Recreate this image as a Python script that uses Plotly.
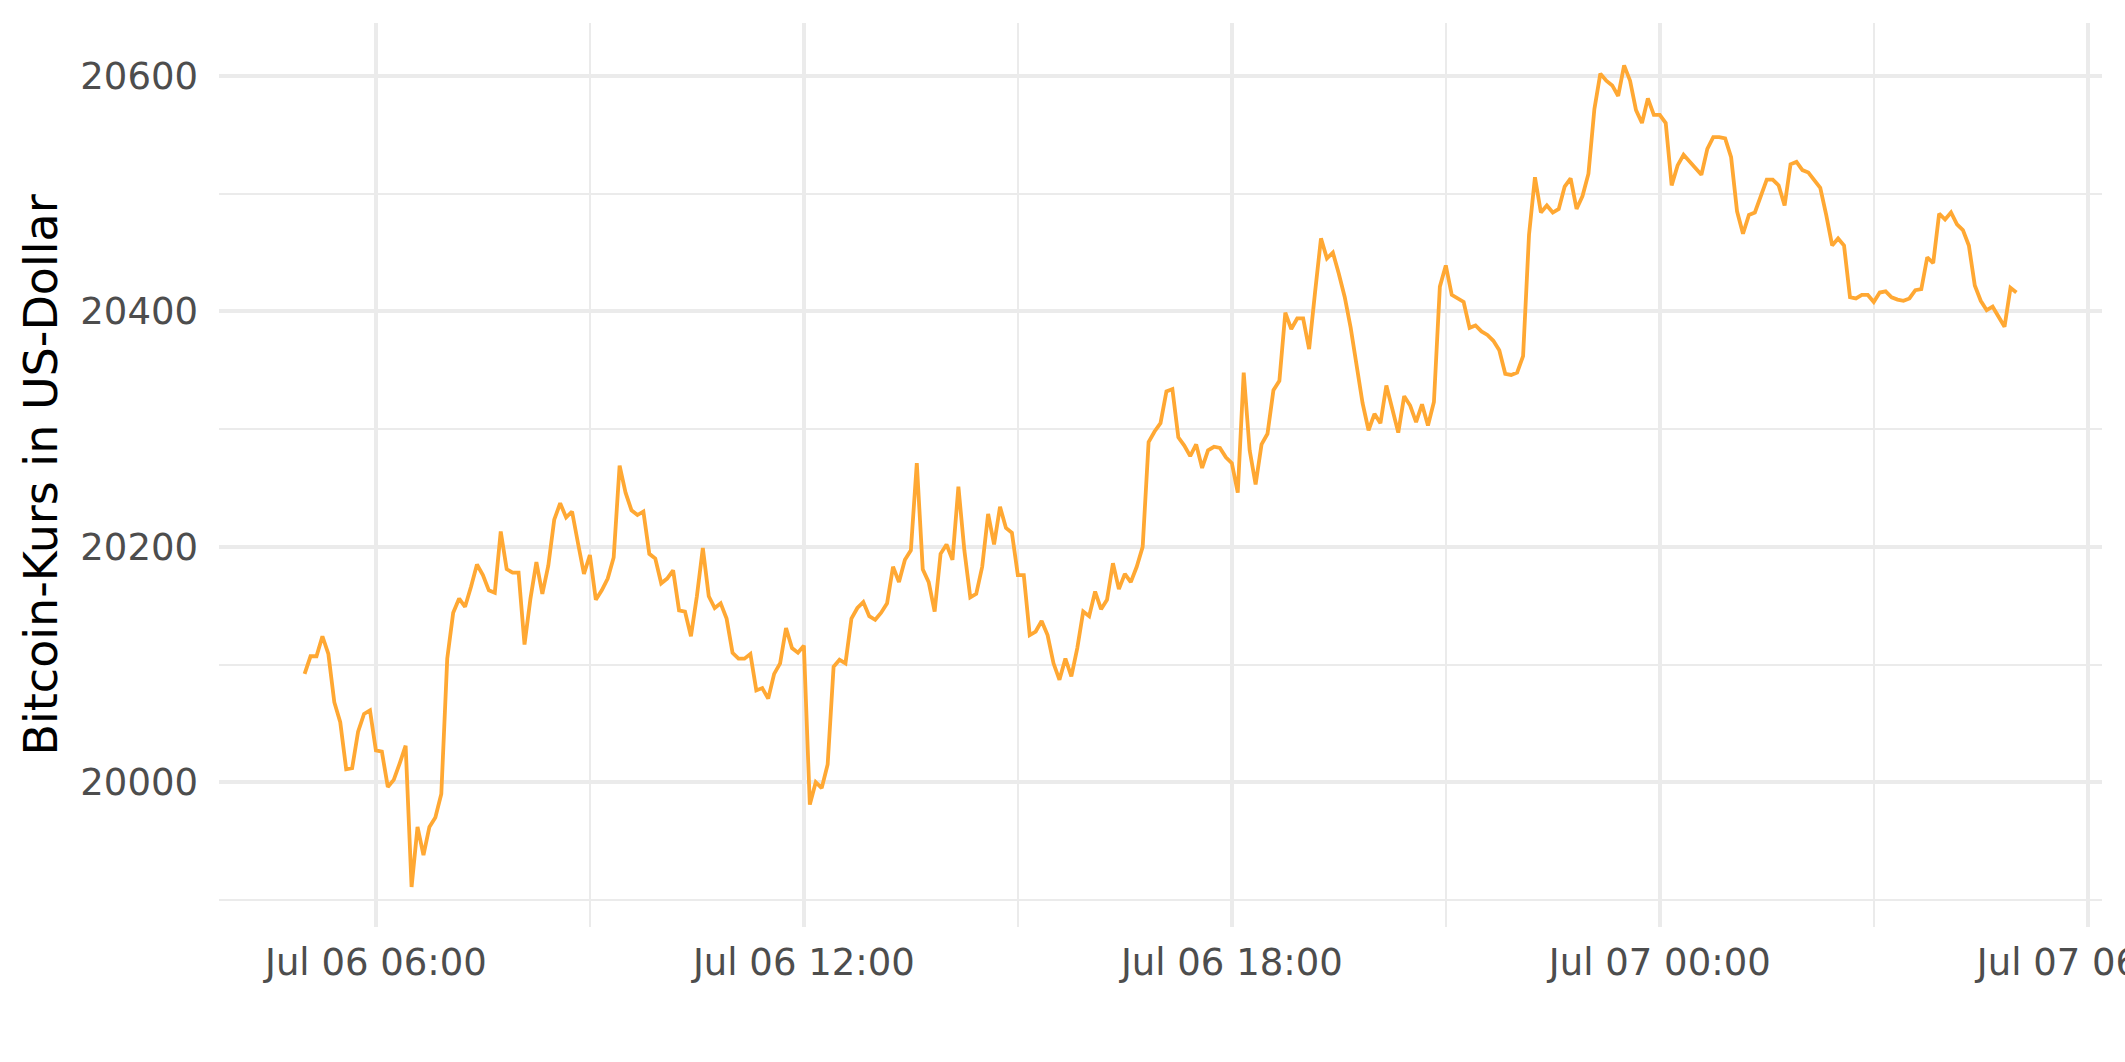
import pandas as pd
import plotly.graph_objects as go

# ---- data ----
start_time = "2022-07-06 05:00"
interval = "5min"
prices = [
    20092, 20107, 20107, 20124, 20109, 20068, 20051, 20011, 20012, 20043,
    20058, 20061, 20027, 20026, 19996, 20002, 20016, 20031, 19911, 19962,
    19938, 19962, 19970, 19990, 20105, 20144, 20156, 20149, 20166, 20185,
    20176, 20163, 20161, 20213, 20181, 20178, 20178, 20117, 20156, 20187,
    20160, 20184, 20223, 20237, 20225, 20230, 20203, 20177, 20193, 20155,
    20163, 20173, 20191, 20269, 20246, 20231, 20227, 20230, 20194, 20190,
    20169, 20173, 20180, 20146, 20145, 20124, 20158, 20199, 20158, 20148,
    20152, 20139, 20110, 20105, 20105, 20109, 20078, 20080, 20071, 20092,
    20101, 20131, 20114, 20110, 20116, 19981, 20000, 19995, 20015, 20098,
    20104, 20101, 20139, 20148, 20153, 20141, 20138, 20144, 20152, 20183,
    20170, 20189, 20197, 20271, 20181, 20170, 20145, 20194, 20202, 20189,
    20251, 20197, 20157, 20160, 20183, 20228, 20202, 20234, 20216, 20212,
    20176, 20176, 20125, 20128, 20137, 20125, 20101, 20087, 20105, 20090,
    20114, 20145, 20141, 20162, 20147, 20155, 20186, 20164, 20177, 20170,
    20183, 20200, 20289, 20298, 20305, 20332, 20334, 20293, 20286, 20277,
    20287, 20267, 20282, 20285, 20284, 20276, 20271, 20246, 20348, 20282,
    20253, 20287, 20296, 20333, 20341, 20399, 20385, 20394, 20394, 20368,
    20416, 20462, 20445, 20450, 20432, 20412, 20386, 20354, 20322, 20299,
    20313, 20305, 20337, 20317, 20297, 20328, 20320, 20306, 20321, 20303,
    20323, 20421, 20439, 20414, 20411, 20408, 20386, 20388, 20383, 20380,
    20375, 20367, 20347, 20346, 20348, 20362, 20465, 20514, 20484, 20490,
    20484, 20487, 20506, 20513, 20487, 20498, 20517, 20572, 20602, 20596,
    20592, 20583, 20609, 20596, 20571, 20560, 20581, 20567, 20567, 20560,
    20507, 20524, 20533, 20527, 20521, 20516, 20538, 20548, 20548, 20547,
    20531, 20485, 20466, 20482, 20484, 20497, 20512, 20512, 20507, 20490,
    20525, 20527, 20520, 20518, 20511, 20505, 20482, 20456, 20462, 20456,
    20412, 20411, 20414, 20414, 20408, 20416, 20417, 20412, 20410, 20409,
    20411, 20418, 20419, 20446, 20441, 20483, 20478, 20484, 20474, 20469,
    20456, 20422, 20409, 20401, 20404, 20395, 20387, 20420, 20416,
]
times = pd.date_range(start=start_time, periods=len(prices), freq=interval)

x_tick_vals = ["2022-07-06 06:00", "2022-07-06 12:00", "2022-07-06 18:00",
               "2022-07-07 00:00", "2022-07-07 06:00"]
x_tick_text = ["Jul 06 06:00", "Jul 06 12:00", "Jul 06 18:00",
               "Jul 07 00:00", "Jul 07 06:00"]
x_minor_vals = ["2022-07-06 03:00", "2022-07-06 09:00", "2022-07-06 15:00",
                "2022-07-06 21:00", "2022-07-07 03:00"]
y_tick_vals = [20000, 20200, 20400, 20600]
y_minor_vals = [19900, 20100, 20300, 20500]
y_title = "Bitcoin-Kurs in US-Dollar"

# ---- figure ----
W, H = 2125, 1062
ML, MR, MT, MB = 219, 23, 23, 135
GRID = "#EBEBEB"
FONT = "DejaVu Sans"

fig = go.Figure()
fig.add_trace(go.Scatter(
    x=times, y=prices, mode="lines",
    line=dict(color="#FFA833", width=3.8),
    hoverinfo="skip", showlegend=False,
))

fig.update_layout(
    width=W, height=H, autosize=False,
    margin=dict(l=ML, r=MR, t=MT, b=MB, pad=0, autoexpand=False),
    paper_bgcolor="white", plot_bgcolor="white",
    font=dict(family=FONT, color="#4D4D4D", size=37),
    showlegend=False,
)
fig.update_xaxes(
    type="date", automargin=False,
    range=["2022-07-06 03:48", "2022-07-07 06:12"],
    tickmode="array", tickvals=x_tick_vals, ticktext=x_tick_text,
    ticks="", showline=False, zeroline=False,
    showgrid=True, gridcolor=GRID, gridwidth=3.5,
    minor=dict(tickvals=x_minor_vals, showgrid=True, gridcolor=GRID, gridwidth=1.8, ticks=""),
    tickfont=dict(family=FONT, size=37, color="#4D4D4D"),
    ticklabelstandoff=10,
    ticklabeloverflow="allow",
)
fig.update_yaxes(
    automargin=False,
    range=[19877, 20645],
    tickmode="array", tickvals=y_tick_vals, ticktext=[str(v) for v in y_tick_vals],
    ticks="", showline=False, zeroline=False,
    showgrid=True, gridcolor=GRID, gridwidth=3.5,
    minor=dict(tickvals=y_minor_vals, showgrid=True, gridcolor=GRID, gridwidth=1.8, ticks=""),
    tickfont=dict(family=FONT, size=37, color="#4D4D4D"),
    ticklabelstandoff=20,
)
fig.add_annotation(
    text=y_title, textangle=-90,
    xref="paper", yref="paper",
    x=(40.5 - ML) / (W - ML - MR), y=0.5,
    xanchor="center", yanchor="middle",
    showarrow=False,
    font=dict(family=FONT, size=46, color="black"),
)

fig.write_html(
    "out.html",
    config={"displayModeBar": False},
    post_script="document.body.style.margin='0';document.body.style.overflow='hidden';",
)
